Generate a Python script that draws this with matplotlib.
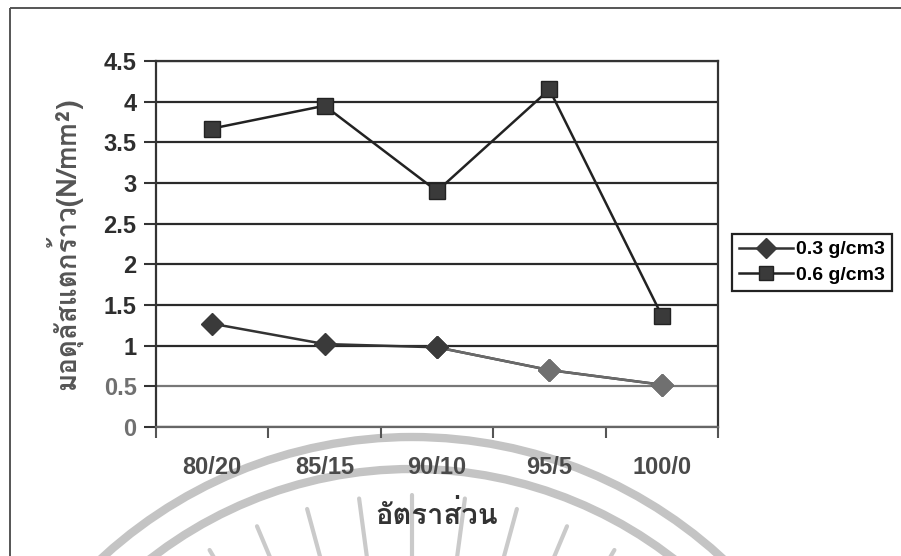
import matplotlib
matplotlib.use("Agg")
import matplotlib.pyplot as plt
import numpy as np
from matplotlib import font_manager
from matplotlib.patches import Arc, Rectangle
from fontTools.ttLib import TTFont

# data
categories = ["80/20", "85/15", "90/10", "95/5", "100/0"]
dens_03 = [1.27, 1.02, 0.98, 0.70, 0.52]
dens_06 = [3.67, 3.95, 2.90, 4.15, 1.37]
yticks = [0, 0.5, 1, 1.5, 2, 2.5, 3, 3.5, 4, 4.5]
series_labels = ["0.3 g/cm3", "0.6 g/cm3"]
xlabel = "อัตราส่วน"
ylabel = "มอดุลัสแตกร้าว(N/mm²)"


# find something that can draw Thai
def find_thai_font():
    for f in font_manager.fontManager.ttflist:
        try:
            cmap = TTFont(f.fname, fontNumber=0, lazy=True).getBestCmap()
        except Exception:
            continue
        if cmap and 0x0E2D in cmap and 0x0E31 in cmap:
            return f.name
    return None


thai = find_thai_font()
thai_fam = [thai, "Liberation Sans", "DejaVu Sans"] if thai else ["Liberation Sans", "DejaVu Sans"]
plt.rcParams["font.family"] = ["Liberation Sans", "DejaVu Sans"]

W, H = 901, 556
fig = plt.figure(figsize=(W / 100, H / 100), dpi=100)

# background layer in pixel coords: scan frame + watermark seal
bg = fig.add_axes([0, 0, 1, 1], zorder=0)
bg.set_xlim(0, W)
bg.set_ylim(H, 0)
bg.axis("off")
bg.add_patch(Rectangle((10, 8), 1000, 700, fill=False, ec="#555555", lw=1.4))
cx, cy = 412, 895
for r in (458, 426):
    bg.add_patch(Arc((cx, cy), 2 * r, 2 * r, theta1=180, theta2=360,
                     color="#c4c4c4", lw=6))
for ang in np.linspace(232, 308, 11):
    a = np.deg2rad(ang)
    r0, r1 = 320, 400
    bg.plot([cx + r0 * np.cos(a), cx + r1 * np.cos(a)],
            [cy + r0 * np.sin(a), cy + r1 * np.sin(a)],
            color="#cacaca", lw=3, solid_capstyle="round")

L, R, T, B = 156, 718, 61, 427
ax = fig.add_axes([L / W, 1 - B / H, (R - L) / W, (B - T) / H], zorder=2)
ax.patch.set_alpha(0)
x = np.arange(len(categories))

ax.set_ylim(0, 4.5)
ax.set_xlim(-0.5, len(categories) - 0.5)
ax.set_yticks(yticks)
ax.set_yticklabels([f"{v:g}" for v in yticks])
ax.set_xticks(x)
ax.set_xticklabels(categories)
ax.set_xticks(np.arange(len(categories) + 1) - 0.5, minor=True)
ax.tick_params(axis="x", which="major", length=0, pad=21)
ax.tick_params(axis="x", which="minor", length=8, width=1.5, color="#555555", direction="out")
ax.tick_params(axis="y", length=9, width=1.5, color="#333333", direction="out", pad=5)
for lab in ax.get_xticklabels():
    lab.set_fontsize(17)
    lab.set_fontweight("bold")
    lab.set_color("#4a4a4a")
for v, lab in zip(yticks, ax.get_yticklabels()):
    lab.set_fontsize(17)
    lab.set_fontweight("bold")
    lab.set_color("#707070" if v < 1 else "#2e2e2e")

ax.grid(axis="y", color="#2a2a2a", lw=1.6)
ax.get_ygridlines()[1].set_color("#777777")
ax.set_axisbelow(True)
for s in ax.spines.values():
    s.set_color("#333333")
    s.set_linewidth(1.6)
ax.spines["bottom"].set_color("#666666")

ax.plot(x, dens_03, color="#333333", lw=1.8, marker="D", ms=11,
        mfc="#3a3a3a", mec="#3a3a3a", label=series_labels[0], zorder=4)
# the right half of the lower series is faded on the scan
ax.plot(x[2:], dens_03[2:], color="#6a6a6a", lw=1.8, marker="D", ms=11,
        mfc="#707070", mec="#707070", zorder=5)
ax.plot(x[2], dens_03[2], ls="none", marker="D", ms=11,
        mfc="#3a3a3a", mec="#3a3a3a", zorder=6)
ax.plot(x, dens_06, color="#222222", lw=1.8, marker="s", ms=11,
        mfc="#3a3a3a", mec="#222222", label=series_labels[1], zorder=4)

ax.set_xlabel(xlabel, family=thai_fam, fontsize=21, fontweight="bold",
              color="#333333", labelpad=16)
ax.set_ylabel(ylabel, family=thai_fam, fontsize=20, fontweight="bold",
              color="#555555", labelpad=15)

leg = ax.legend(loc="center left", bbox_to_anchor=(1.008, 0.45), frameon=True,
                fancybox=False, edgecolor="#222222", framealpha=1,
                prop={"weight": "bold", "size": 14}, handlelength=2.8,
                borderpad=0.35, labelspacing=0.4, handletextpad=0.15)
leg.get_frame().set_linewidth(1.6)
for h in leg.legend_handles:
    h.set_markersize(10)

fig.savefig("out.png", dpi=100, facecolor="white")
